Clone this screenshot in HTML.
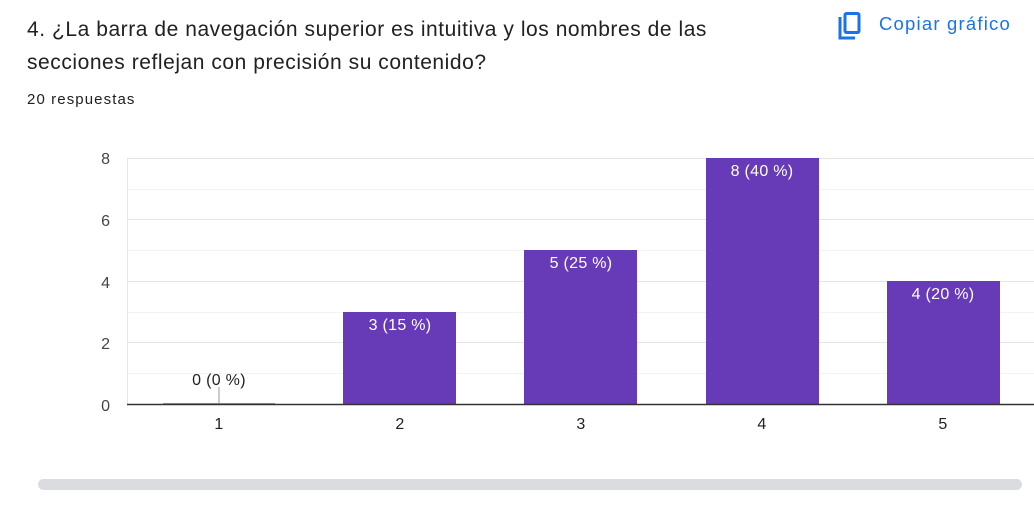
<!DOCTYPE html>
<html><head><meta charset="utf-8"><style>
body{margin:0;width:1034px;height:508px;background:#fff;overflow:hidden;font-family:"Liberation Sans",Arial,sans-serif;}
.t{position:absolute;left:27px;top:13px;font-size:21px;letter-spacing:0.55px;line-height:33px;color:#202124;width:720px;}
.r{position:absolute;left:27px;top:91px;font-size:15px;letter-spacing:1.1px;color:#202124;}
.c{position:absolute;left:879px;top:13px;font-size:18.5px;letter-spacing:1.2px;color:#1a73e8;}
</style></head><body>
<div class="t">4. ¿La barra de navegación superior es intuitiva y los nombres de las secciones reflejan con precisión su contenido?</div>
<div class="r">20 respuestas</div>
<svg style="position:absolute;left:836px;top:11px" width="26" height="30" viewBox="0 0 26 30">
<path d="M4 6 V27 H19" fill="none" stroke="#1a73e8" stroke-width="3"/>
<rect x="9" y="2.5" width="14" height="19" rx="1.5" fill="none" stroke="#1a73e8" stroke-width="3"/>
</svg>
<div class="c">Copiar gráfico</div>
<svg style="position:absolute;left:0;top:0" width="1034" height="508">
<g stroke-width="1">
<line x1="127" x2="1034" y1="158.5" y2="158.5" stroke="#e6e6e6"/>
<line x1="127" x2="1034" y1="189.5" y2="189.5" stroke="#f3f3f3"/>
<line x1="127" x2="1034" y1="219.5" y2="219.5" stroke="#e6e6e6"/>
<line x1="127" x2="1034" y1="250.5" y2="250.5" stroke="#f3f3f3"/>
<line x1="127" x2="1034" y1="281.5" y2="281.5" stroke="#e6e6e6"/>
<line x1="127" x2="1034" y1="312.5" y2="312.5" stroke="#f3f3f3"/>
<line x1="127" x2="1034" y1="342.5" y2="342.5" stroke="#e6e6e6"/>
<line x1="127" x2="1034" y1="373.5" y2="373.5" stroke="#f3f3f3"/>
<line x1="127.5" x2="127.5" y1="158" y2="404" stroke="#e6e6e6"/>
</g>
<g fill="#673ab7">
<rect x="343" y="312" width="113" height="92"/>
<rect x="524" y="250" width="113" height="154"/>
<rect x="706" y="158" width="113" height="246"/>
<rect x="887" y="281" width="113" height="123"/>
</g>
<line x1="163" x2="275" y1="403.5" y2="403.5" stroke="#999"/>
<line x1="219" x2="219" y1="387" y2="404" stroke="#999"/>
<line x1="127" x2="1034" y1="404.5" y2="404.5" stroke="#333" stroke-width="1.5"/>
<g font-family="Liberation Sans,Arial,sans-serif" font-size="16" letter-spacing="0.3" text-anchor="middle">
<text x="219" y="385" fill="#222">0 (0 %)</text>
<text x="400" y="330" fill="#fff">3 (15 %)</text>
<text x="581" y="268" fill="#fff">5 (25 %)</text>
<text x="762" y="176" fill="#fff">8 (40 %)</text>
<text x="943" y="299" fill="#fff">4 (20 %)</text>
<text x="219" y="429" fill="#222">1</text>
<text x="400" y="429" fill="#222">2</text>
<text x="581" y="429" fill="#222">3</text>
<text x="762" y="429" fill="#222">4</text>
<text x="943" y="429" fill="#222">5</text>
</g>
<g font-family="Liberation Sans,Arial,sans-serif" font-size="16" text-anchor="end" fill="#444">
<text x="110" y="164">8</text>
<text x="110" y="226">6</text>
<text x="110" y="288">4</text>
<text x="110" y="349">2</text>
<text x="110" y="411">0</text>
</g>
<rect x="38" y="479" width="984" height="11" rx="5.5" fill="#dadce0"/>
</svg>
</body></html>
